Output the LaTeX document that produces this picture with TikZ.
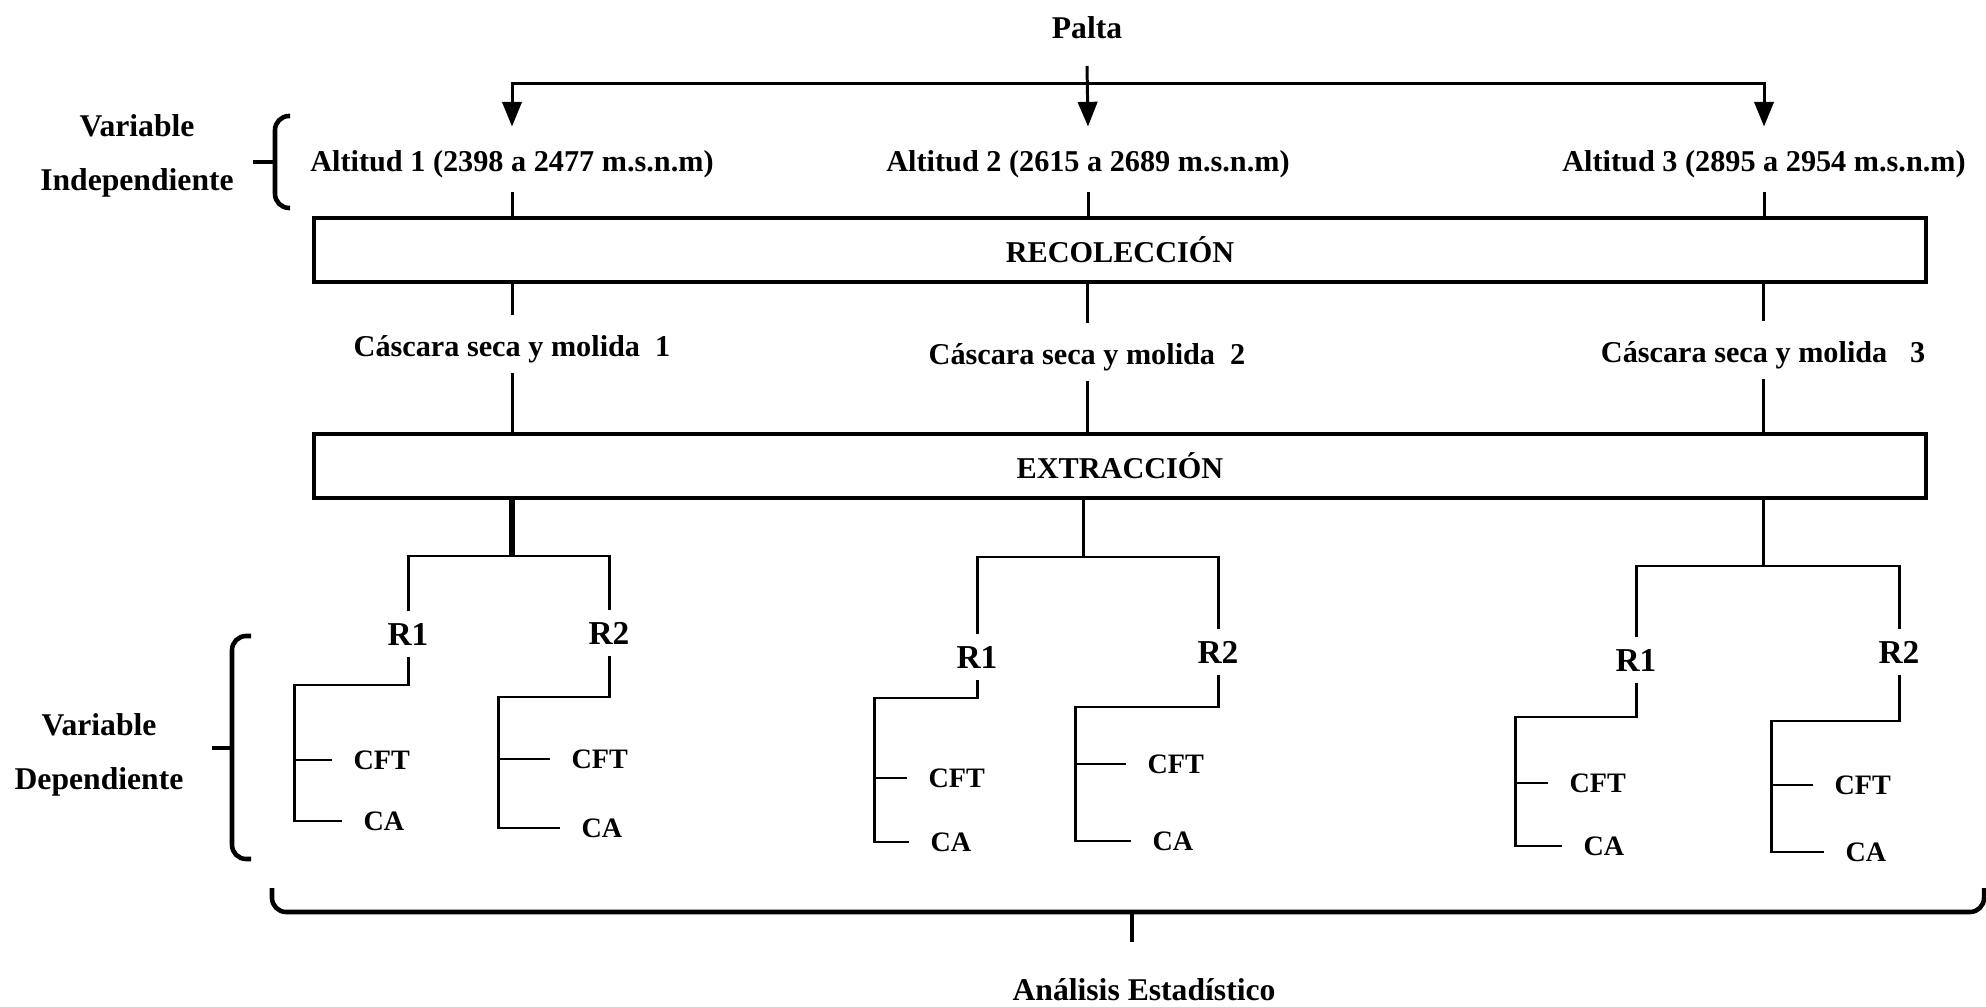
\documentclass[tikz,border=0pt]{standalone}
\usepackage{fontspec}
\setmainfont{Liberation Serif}
\usetikzlibrary{arrows.meta}

\begin{document}
\begin{tikzpicture}[x=0.01cm,y=-0.01cm,line width=0.85pt,
  font=\bfseries\fontsize{8.6}{10}\selectfont,
  box/.style={draw,line width=1pt,minimum width=16.11cm,minimum height=0.64cm,inner sep=0pt},
  alt/.style={minimum height=0.62cm,inner sep=0pt,text height=7pt,text depth=0pt},
  cas/.style={minimum height=0.55cm,inner sep=0pt,text height=7pt,text depth=0pt},
  rep/.style={minimum height=0.42cm,inner sep=0pt,font=\bfseries\fontsize{9.5}{11}\selectfont},
  leaf/.style={anchor=west,inner xsep=0.2cm,inner ysep=0pt,font=\bfseries\fontsize{8}{10}\selectfont},
  side/.style={align=center,font=\bfseries\fontsize{9}{15.2}\selectfont},
  brace/.style={line width=1.3pt,rounded corners=4pt},
  >={Triangle[length=7pt,width=5.5pt]}]
  \useasboundingbox (0,0) rectangle (1986,1007);

  % top level
  \node (palta) at (1087,28) {\fontsize{9}{11}\selectfont Palta};
  \coordinate (split) at (1087,66);
  \coordinate (bar) at (1087,84);
  \node[alt] (alt1) at (512,159) {Altitud 1 (2398 a 2477 m.s.n.m)};
  \node[alt] (alt2) at (1088,159) {Altitud 2 (2615 a 2689 m.s.n.m)};
  \node[alt] (alt3) at (1764,159) {Altitud 3 (2895 a 2954 m.s.n.m)};
  \draw[->] (split) -- (alt2.north);
  \draw[<->] (alt1.north) |- (bar) -| (alt3.north);

  % boxes and intermediate labels
  \node[box] (rec) at (1120,250) {RECOLECCIÓN};
  \node[box] (ext) at (1120,466) {EXTRACCIÓN};
  \node[cas] (cas1) at (512,344) {Cáscara seca y molida\ \ 1};
  \node[cas] (cas2) at (1087,352) {Cáscara seca y molida\ \ 2};
  \node[cas] (cas3) at (1763,350) {Cáscara seca y molida\ \ \ 3};
  \foreach \i in {1,2,3}{
    \draw (alt\i.south) -- (rec.north -| alt\i.south);
    \draw (rec.south -| cas\i) -- (cas\i.north);
    \draw (cas\i.south) -- (ext.north -| cas\i);}

  % replicates
  \coordinate (g1) at (512,556);
  \coordinate (g2) at (1083,557);
  \coordinate (g3) at (1763,566);
  \foreach \n/\x/\y/\yc/\xv/\yf/\xf/\ya/\xa/\lab in {
      11/408/634/685/294/760/332/821/342/R1, 12/609/633/697/498/759/550/828/560/R2,
      21/977/657/698/874/778/907/842/909/R1, 22/1218/652/707/1075/764/1126/841/1131/R2,
      31/1636/660/717/1515/783/1548/846/1562/R1, 32/1899/652/721/1771/785/1813/852/1824/R2}{
    \node[rep] (r\n) at (\x,\y) {\lab};
    \node[leaf] (cft\n) at (\xf,\yf) {CFT};
    \node[leaf] (ca\n) at (\xa,\ya) {CA};
    \draw (r\n.south) |- (\xv,\yc) |- (ca\n.west);
    \draw[line width=0.5pt] (\xv,\yf) -- (cft\n.west);}
  \draw[line width=1.5pt] (ext.south -| g1) -- (g1);
  \draw (ext.south -| g2) -- (g2);
  \draw (ext.south -| g3) -- (g3);
  \draw (r11.north) |- (g1) -| (r12.north);
  \draw (r21.north) |- (g2) -| (r22.north);
  \draw (r31.north) |- (g3) -| (r32.north);

  % braces and side labels
  \node[side] (vind) at (137,156) {Variable\\Independiente};
  \node[side] (vdep) at (99,755) {Variable\\Dependiente};
  \draw[brace] (290,116) -- (275,116) -- (275,208) -- (290,208);
  \draw[brace] (275,162) -- (253,162);
  \draw[brace] (251,636) -- (232,636) -- (232,859) -- (251,859);
  \draw[brace] (232,748) -- (212,748);
  \draw[brace] (272,888) -- (272,912) -- (1984,912) -- (1984,888);
  \draw[brace] (1132,912) -- (1132,942);
  \node (stat) at (1144,990) {\fontsize{9}{11}\selectfont Análisis Estadístico};
\end{tikzpicture}
\end{document}
